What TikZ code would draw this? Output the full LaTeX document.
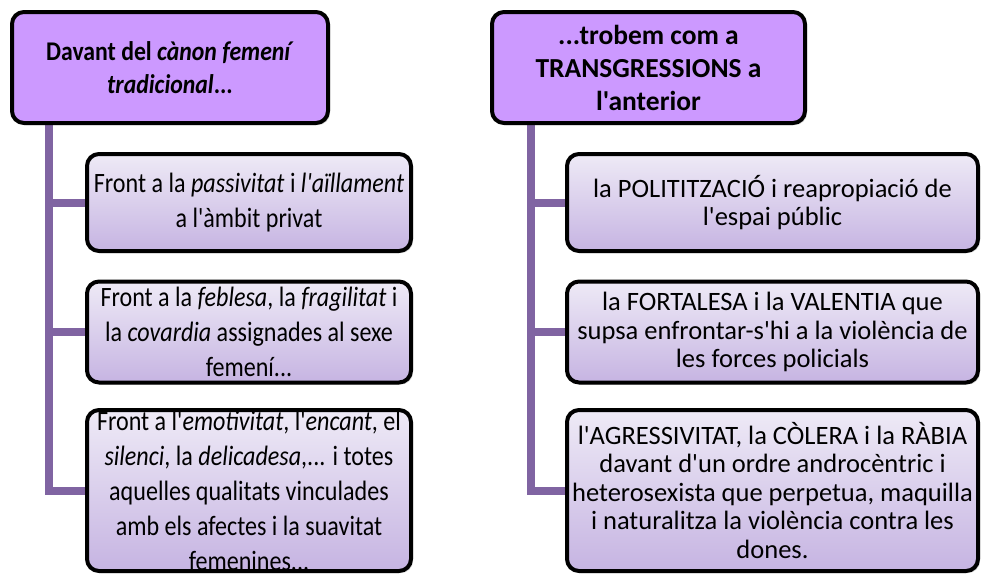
\documentclass[tikz,border=0pt]{standalone}
\usepackage{fontspec}
\setmainfont{Carlito}[Ligatures=TeXOff]
\newfontfamily\leftfont{Carlito}[Ligatures=TeXOff, FakeStretch=0.86]
\newfontfamily\lefthdrfont{Carlito}[Ligatures=TeXOff, FakeStretch=0.88]
\usetikzlibrary{shadows,backgrounds}
\definecolor{hdrfill}{HTML}{CC99FF}
\definecolor{gtop}{HTML}{EEEAF6}
\definecolor{gbot}{HTML}{C6B4E2}
\definecolor{conncol}{HTML}{8064A2}
\tikzset{
  basebox/.style={draw=black, line width=4pt, rounded corners=12pt,
    align=center, inner sep=0pt,
    drop shadow={opacity=0.35, shadow xshift=2pt, shadow yshift=-2pt}},
  lhdr/.style={basebox, fill=hdrfill, font=\lefthdrfont\fontsize{27}{33}\selectfont\bfseries},
  rhdr/.style={basebox, fill=hdrfill, font=\fontsize{27.5}{33}\selectfont\bfseries},
  leftbox/.style={basebox, top color=gtop, bottom color=gbot,
    font=\leftfont\fontsize{28}{35}\selectfont},
  rightbox/.style={basebox, top color=gtop, bottom color=gbot,
    font=\fontsize{26.5}{28.5}\selectfont},
  conn/.style={draw=conncol, line width=8pt},
}
\begin{document}
\begin{tikzpicture}[x=1pt, y=-1pt]
\useasboundingbox (0,0) rectangle (983,576);
\coordinate (sl) at (49,125);
\coordinate (sr) at (531,125);
% headers
\node[lhdr, minimum width=316pt, minimum height=111pt] (h1) at (170,67.5)
  {Davant del \textit{cànon femení}\\ \textit{tradicional}...};
\node[rhdr, minimum width=313pt, minimum height=111pt] (h2) at (648.5,67.5)
  {...trobem com a\\ TRANSGRESSIONS a\\ l'anterior};
% left children
\node[leftbox, minimum width=324pt, minimum height=97pt] (l1) at (249,202.5)
  {Front a la \textit{passivitat} i \textit{l'aïllament}\\ a l'àmbit privat};
\node[leftbox, minimum width=324pt, minimum height=101pt] (l2) at (249,332)
  {Front a la \textit{feblesa}, la \textit{fragilitat} i\\ la \textit{covardia} assignades al sexe\\ femení...};
\node[leftbox, minimum width=324pt, minimum height=161pt] (l3) at (249,490.5)
  {Front a l'\textit{emotivitat}, l'\textit{encant}, el\\ \textit{silenci}, la \textit{delicadesa},... i totes\\ aquelles qualitats vinculades\\ amb els afectes i la suavitat\\ femenines...};
% right children
\node[rightbox, minimum width=411pt, minimum height=97pt] (r1) at (772.5,202.5)
  {la POLITITZACIÓ i reapropiació de\\ l'espai públic};
\node[rightbox, minimum width=411pt, minimum height=101pt] (r2) at (772.5,332)
  {la FORTALESA i la VALENTIA que\\ supsa enfrontar-s'hi a la violència de\\ les forces policials};
\node[rightbox, minimum width=411pt, minimum height=161pt] (r3) at (772.5,490.5)
  {l'AGRESSIVITAT, la CÒLERA i la RÀBIA\\ davant d'un ordre androcèntric i\\ heterosexista que perpetua, maquilla\\ i naturalitza la violència contra les\\ dones.};
% connectors
\begin{scope}[on background layer]
  \draw[conn] (sl |- h1.south) |- (l3.west);
  \draw[conn] (sl |- l1.west) -- (l1.west);
  \draw[conn] (sl |- l2.west) -- (l2.west);
  \draw[conn] (sr |- h2.south) |- (r3.west);
  \draw[conn] (sr |- r1.west) -- (r1.west);
  \draw[conn] (sr |- r2.west) -- (r2.west);
\end{scope}
\end{tikzpicture}
\end{document}
